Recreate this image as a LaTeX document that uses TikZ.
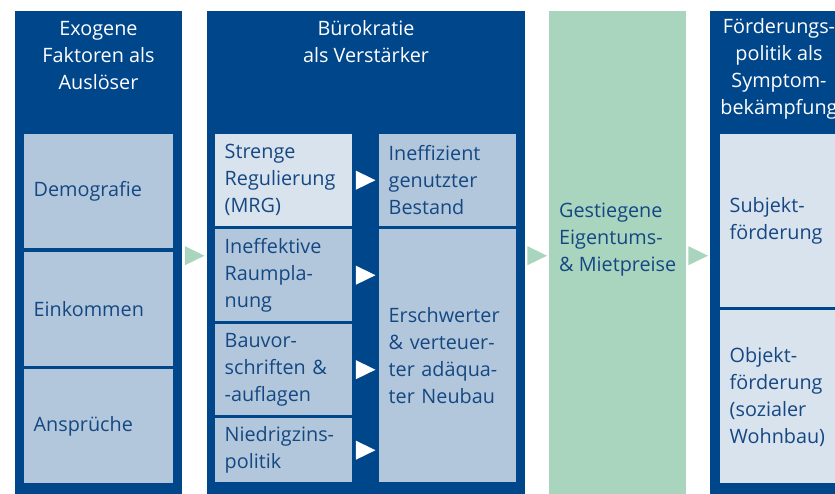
\documentclass[tikz,border=0pt]{standalone}
\usepackage{fontspec}
\setmainfont{Open Sans}
\usetikzlibrary{calc}
\definecolor{dblue}{HTML}{00468B}
\definecolor{lbox}{HTML}{B2C7DB}
\definecolor{pbox}{HTML}{D9E3EE}
\definecolor{mint}{HTML}{A9D5BE}
\definecolor{tblue}{HTML}{154883}
\newcommand\txtfont{\fontsize{19.8}{27}\selectfont}
\newcommand\trimark[4]{\fill[#1] ($(#2)!0.5!(#3)$) ++(0,#4) ++(-9.75,-9.5) -- ++(19.5,9.5) -- ++(-19.5,9.5) -- cycle;}
\begin{document}
\begin{tikzpicture}[x=1pt,y=-1pt,
  col/.style={draw=none, fill=dblue, anchor=north west, inner sep=0pt},
  ibox/.style={draw=none, fill=lbox, anchor=north west, inner xsep=9.5pt, inner ysep=0pt,
     text=tblue, font=\txtfont, align=left},
  pale/.style={ibox, fill=pbox},
  head/.style={text=white, font=\txtfont, align=center, inner sep=0pt},
  label/.style={text=tblue, font=\txtfont, align=left, inner sep=0pt}
]
\useasboundingbox (0,0) rectangle (835,493);
\clip (0,0) rectangle (835,493);
\fill[white] (0,0) rectangle (835,493);

% columns
\node[col, minimum width=167pt, minimum height=484pt] (c1) at (15,11) {};
\node[col, minimum width=318pt, minimum height=484pt] (c2) at (207,11) {};
\node[col, fill=mint, minimum width=137pt, minimum height=484pt] (c3) at (549,11) {};
\node[col, minimum width=140pt, minimum height=484pt] (c4) at (710,11) {};

% headers
\node[head] (h1) at (98.5,55.5) {Exogene\\Faktoren als\\Auslöser};
\node[head] (h2) at (366,42) {Bürokratie\\als Verstärker};
\node[head] (h4) at (779,68.5) {Förderungs-\\politik als\\Symptom-\\bekämpfung};

% left column
\node[ibox, minimum width=149pt, minimum height=114pt, text width=130pt] (demo) at (24,134) {Demografie};
\node[ibox, minimum width=149pt, minimum height=114pt, text width=130pt] (eink) at (24,252) {Einkommen};
\node[ibox, minimum width=149pt, minimum height=114pt, text width=130pt] (ansp) at (24,369) {Ansprüche};

% middle column, left
\node[pale, minimum width=137pt, minimum height=92pt, text width=118pt] (streng) at (215,134) {Strenge\\Regulierung\\(MRG)};
\node[ibox, minimum width=137pt, minimum height=92pt, text width=118pt] (raum) at (215,229) {Ineffektive\\Raumpla-\\nung};
\node[ibox, minimum width=137pt, minimum height=91pt, text width=118pt] (bauv) at (215,324) {Bauvor-\\schriften \&\\-auflagen};
\node[ibox, minimum width=137pt, minimum height=64pt, text width=118pt] (zins) at (215,418) {Niedrigzins-\\politik};

% middle column, right
\node[ibox, minimum width=137pt, minimum height=92pt, text width=118pt] (bestand) at (379,134) {Ineffizient\\genutzter\\Bestand};
\node[ibox, minimum width=137pt, minimum height=253pt, text width=118pt] (neubau) at (379,229) {Erschwerter\\\& verteuer-\\ter adäqua-\\ter Neubau};

% green column text
\node[label, anchor=west] (preise) at (559,239.5) {Gestiegene\\Eigentums-\\\& Mietpreise};

% right column
\node[pale, minimum width=140pt, minimum height=173pt, text width=121pt] (subj) at (720,134) {Subjekt-\\förderung};
\node[pale, minimum width=140pt, minimum height=173pt, text width=121pt] (obj) at (720,310) {Objekt-\\förderung\\(sozialer\\Wohnbau)};

% white arrows
\trimark{white}{streng.east}{bestand.west}{0}
\trimark{white}{raum.east}{raum.east -| neubau.west}{0}
\trimark{white}{bauv.east}{bauv.east -| neubau.west}{0}
\trimark{white}{zins.east}{zins.east -| neubau.west}{0}

% green arrows
\trimark{mint}{c1.east}{c2.west}{2.5}
\trimark{mint}{c2.east}{c3.west}{2.5}
\trimark{mint}{c3.east}{c4.west}{2.5}
\end{tikzpicture}
\end{document}
